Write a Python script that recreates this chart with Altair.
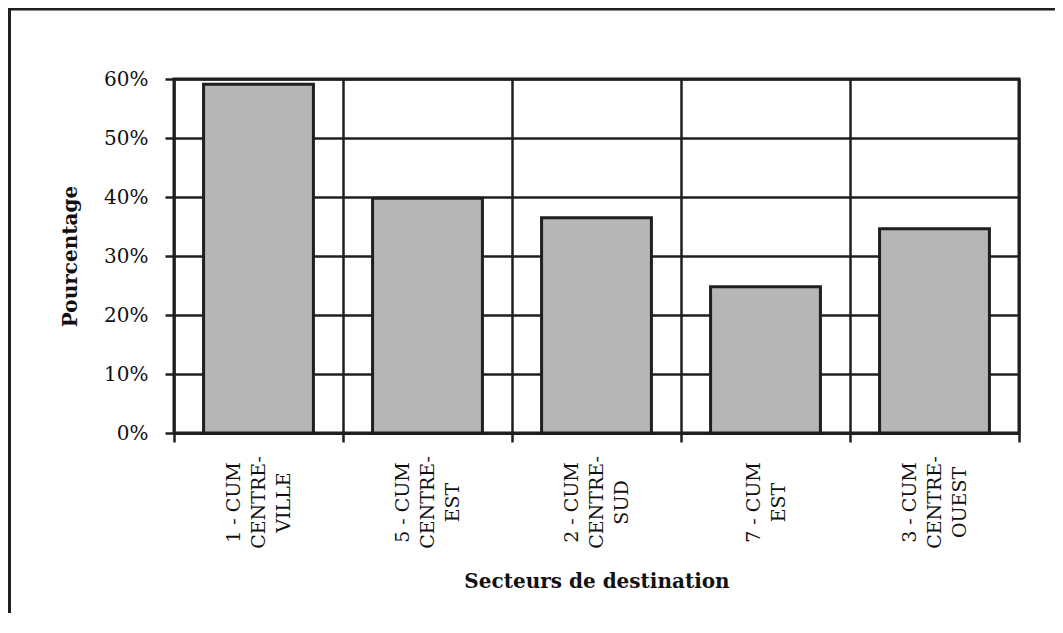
import altair as alt
import pandas as pd

# ---- data ----
categories = [
    "1 - CUM CENTRE-VILLE",
    "5 - CUM CENTRE-EST",
    "2 - CUM CENTRE-SUD",
    "7 - CUM EST",
    "3 - CUM CENTRE-OUEST",
]
label_lines = [
    ["1 - CUM", "CENTRE-", "VILLE"],
    ["5 - CUM", "CENTRE-", "EST"],
    ["2 - CUM", "CENTRE-", "SUD"],
    ["7 - CUM", "EST"],
    ["3 - CUM", "CENTRE-", "OUEST"],
]
values = [0.591, 0.398, 0.365, 0.248, 0.346]
y_ticks = [0.0, 0.1, 0.2, 0.3, 0.4, 0.5, 0.6]

x_title = "Secteurs de destination"
y_title = "Pourcentage"

FONT = "DejaVu Serif"
INK = "#1f1f1f"
LINE_H = 25

df = pd.DataFrame({"secteur": categories, "pct": values})


def js_list(lines):
    return "[" + ",".join("'" + s + "'" for s in lines) + "]"


label_expr = "datum.label"
for cat, lines in reversed(list(zip(categories, label_lines))):
    label_expr = f"datum.value === '{cat}' ? {js_list(lines)} : ({label_expr})"

two_line = [c for c, l in zip(categories, label_lines) if len(l) == 2]
two_line_test = " || ".join(f"datum.value === '{c}'" for c in two_line)

bars = alt.Chart(df).mark_bar(
    width=alt.RelativeBandSize(0.65),
    fill="#b6b6b6",
    stroke=INK,
    strokeWidth=3,
).encode(
    x=alt.X(
        "secteur:N",
        sort=categories,
        scale=alt.Scale(domain=categories, paddingInner=0, paddingOuter=0),
        axis=alt.Axis(
            title=x_title,
            tickBand="extent",
            grid=True,
            gridColor=INK,
            gridWidth=2.5,
            gridOpacity=1,
            ticks=True,
            tickSize=9,
            tickWidth=2.5,
            tickColor=INK,
            domain=True,
            domainColor=INK,
            domainWidth=3,
            labelAngle=270,
            labelAlign="center",
            labelBaseline="middle",
            labelPadding=60,
            labelOffset=alt.condition(
                two_line_test, alt.value(-LINE_H / 2), alt.value(-LINE_H)
            ),
            labelFont=FONT,
            labelFontSize=19,
            labelColor="#111111",
            labelLineHeight=LINE_H,
            labelExpr=label_expr,
            labelOverlap=False,
            titleFont=FONT,
            titleFontSize=20,
            titleFontWeight="bold",
            titleColor="#111111",
            titleBaseline="alphabetic",
            titleY=154,
        ),
    ),
    y=alt.Y(
        "pct:Q",
        scale=alt.Scale(domain=[0, 0.6], nice=False),
        axis=alt.Axis(
            title=y_title,
            values=y_ticks,
            format=".0%",
            grid=True,
            gridColor=INK,
            gridWidth=2.5,
            gridOpacity=1,
            ticks=True,
            tickSize=9,
            tickWidth=2.5,
            tickColor=INK,
            domain=False,
            labelPadding=17,
            labelFont=FONT,
            labelFontSize=20,
            labelColor="#111111",
            titleFont=FONT,
            titleFontSize=20,
            titleFontWeight="bold",
            titleColor="#111111",
            titleAngle=270,
            titleAlign="center",
            titleBaseline="middle",
            titleX=-104,
            titleY=177,
        ),
    ),
)

frame_df = pd.DataFrame({"k": [0]})
top_line = alt.Chart(frame_df).mark_rule(color=INK, strokeWidth=3).encode(
    x=alt.value(-166), x2=alt.value(889), y=alt.value(-70)
)
left_line = alt.Chart(frame_df).mark_rule(color=INK, strokeWidth=3).encode(
    x=alt.value(-164.5), y=alt.value(-71.5), y2=alt.value(540)
)

chart = alt.layer(bars, top_line, left_line).properties(
    width=845,
    height=354,
    autosize=alt.AutoSizeParams(type="none"),
    padding={"left": 166, "top": 71, "right": 36, "bottom": 180},
    background="white",
).configure_view(stroke=INK, strokeWidth=3)

chart.save("out.html", embed_options={"renderer": "svg", "actions": False})
